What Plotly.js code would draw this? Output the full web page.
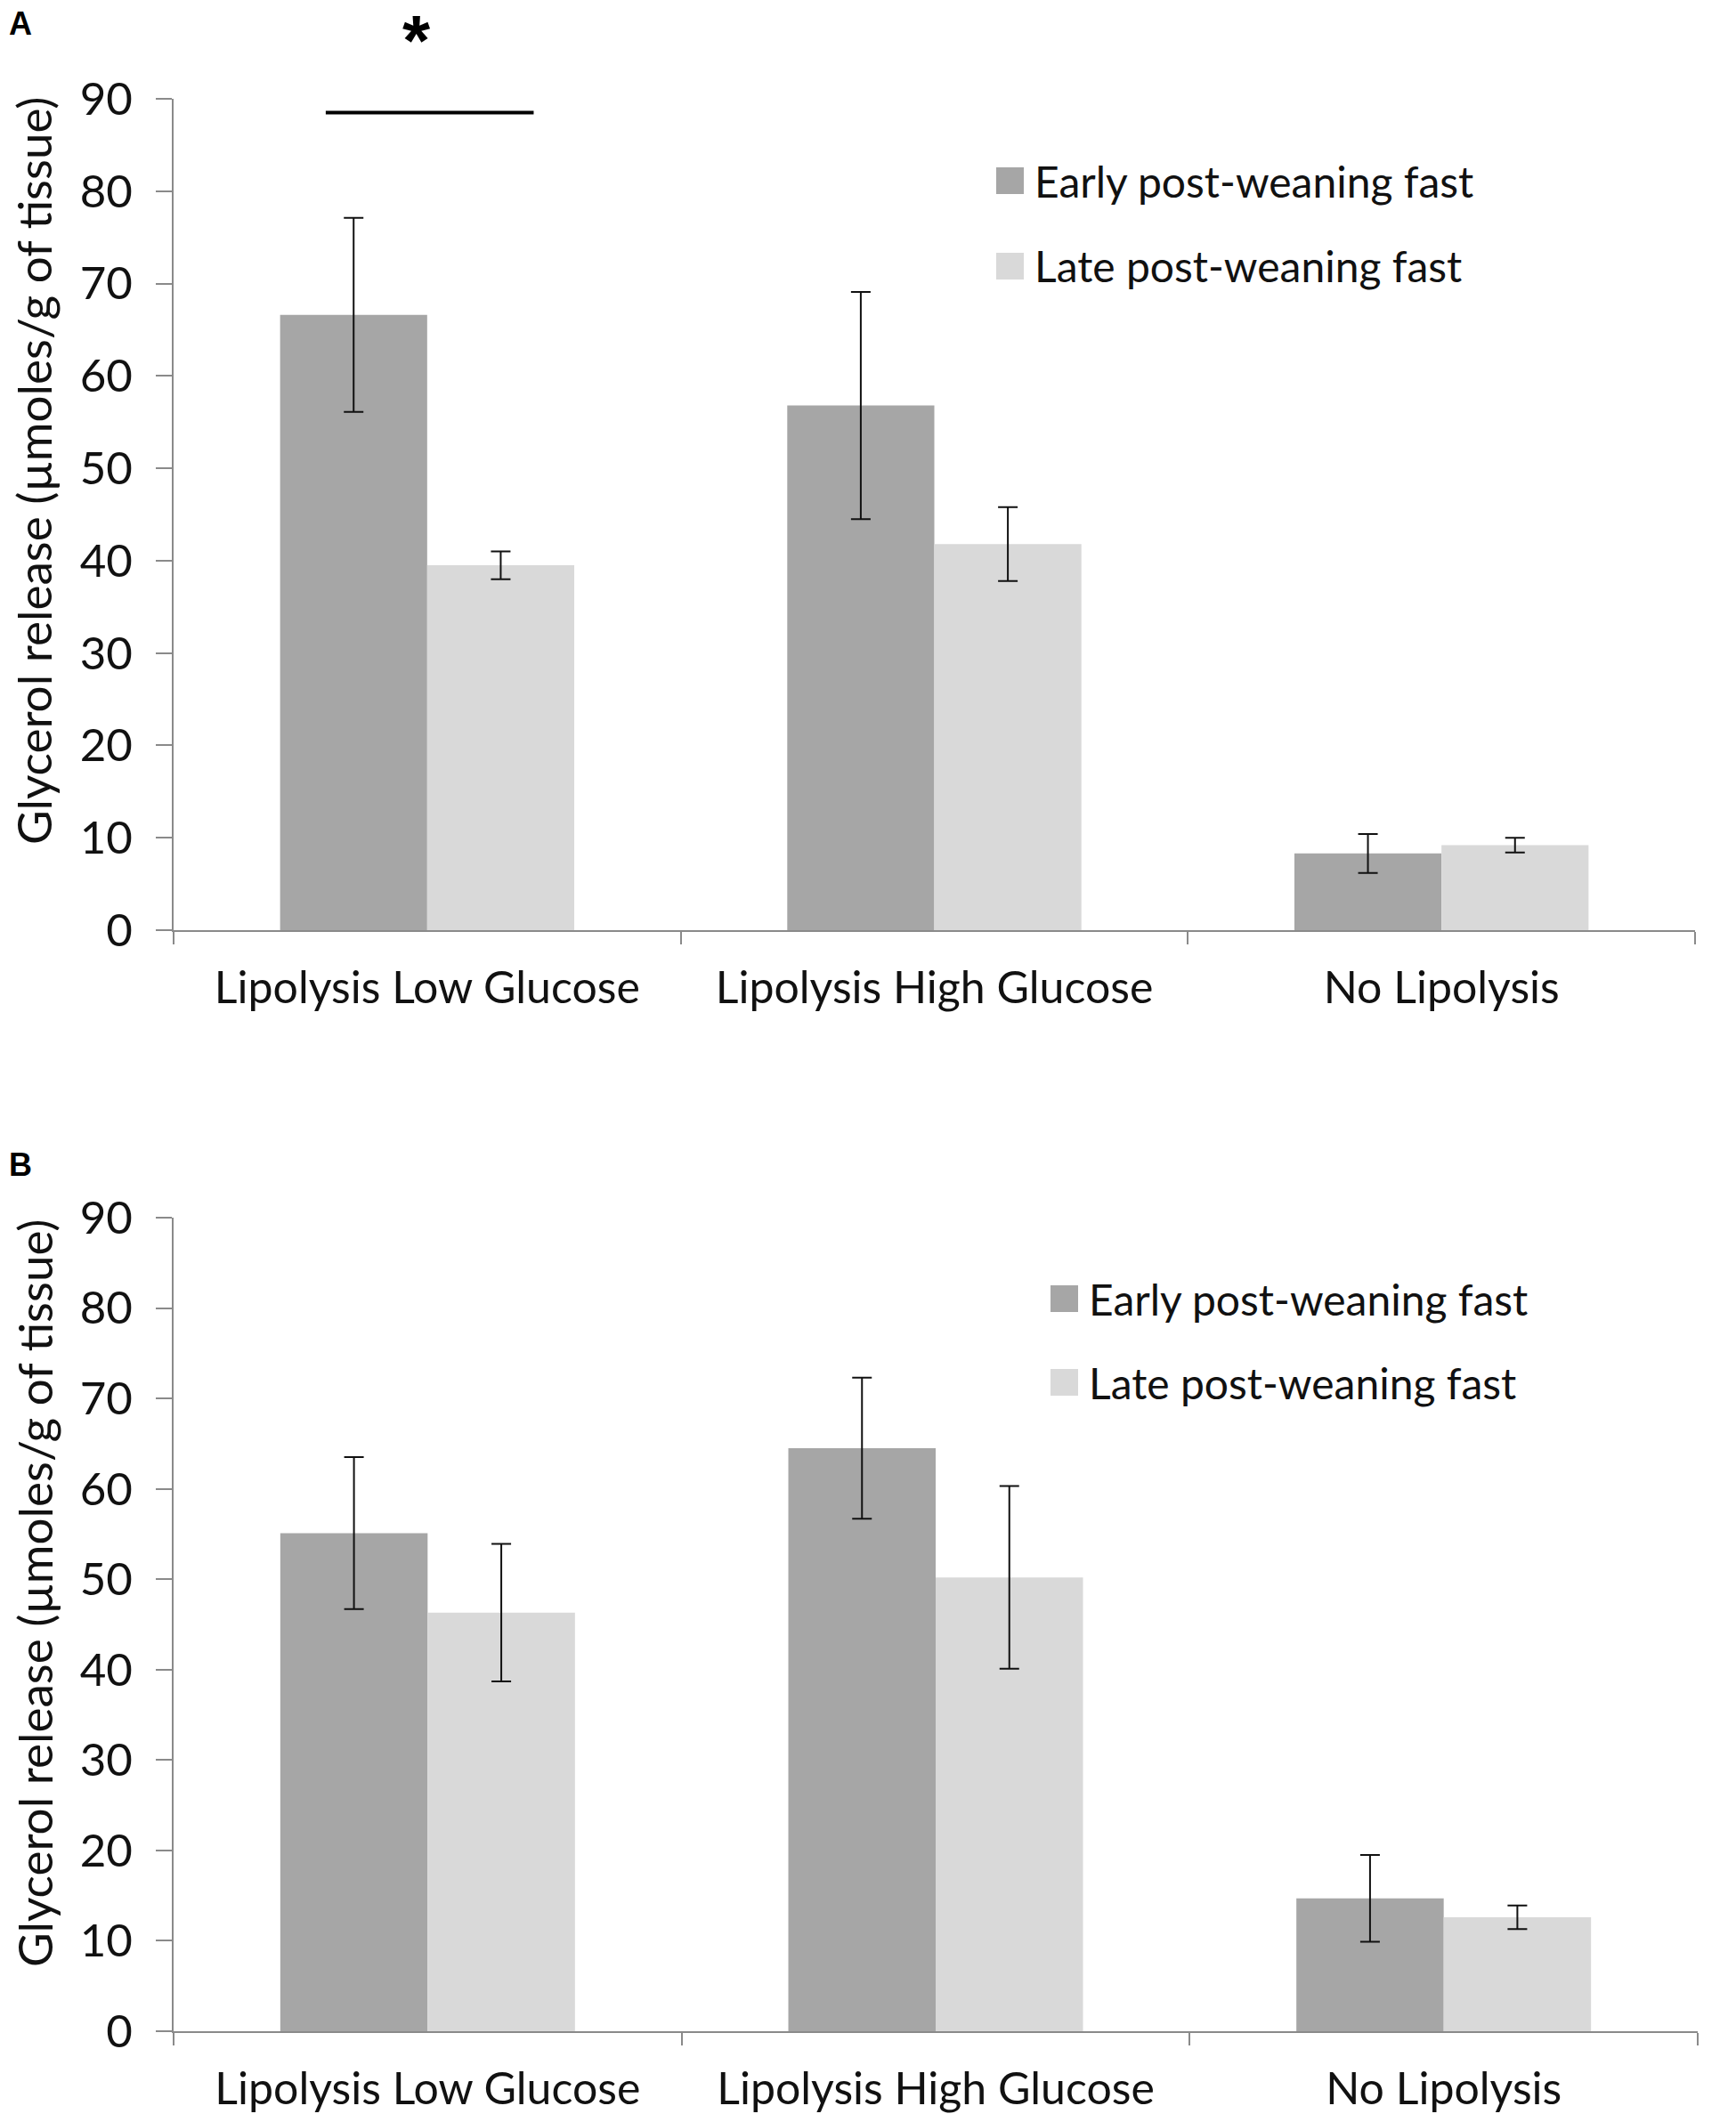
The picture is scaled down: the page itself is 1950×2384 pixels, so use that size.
<!DOCTYPE html>
<html>
<head>
<meta charset="utf-8">
<script src="https://cdn.plot.ly/plotly-3.0.1.min.js"></script>
<style>
  body { margin: 0; background: #fff; }
  #glycerol_chart { width: 1950px; height: 2384px; }
</style>
</head>
<body>
<div id="glycerol_chart"></div>
<script>
// categories and values (µmoles/g of tissue)
var categories = ['Lipolysis Low Glucose', 'Lipolysis High Glucose', 'No Lipolysis']
var series_names = ['Early post-weaning fast', 'Late post-weaning fast']

// panel A
var early_a = [66.6, 56.8, 8.3]
var early_a_err = [10.5, 12.3, 2.1]
var late_a = [39.5, 41.8, 9.2]
var late_a_err = [1.5, 4.0, 0.8]

// panel B
var early_b = [55.1, 64.5, 14.7]
var early_b_err = [8.4, 7.8, 4.8]
var late_b = [46.3, 50.2, 12.6]
var late_b_err = [7.6, 10.1, 1.3]

var y_ticks = [0, 10, 20, 30, 40, 50, 60, 70, 80, 90]

// significance bar over the first group of panel A
var sig_x = [-0.2, 0.21]
var sig_y = 88.5

var W = 1950, H = 2384
var dark = '#a6a6a6', light = '#d9d9d9'
var text_color = '#111', axis_color = '#8a8a8a'
var font_family = 'Lato, "Open Sans", sans-serif'

function px(x) { return x / W }
function py(y) { return 1 - y / H }

function bar_trace(name, y, err, color, xa, ya) {
    return {
        type: 'bar',
        name: name,
        x: categories,
        y: y,
        xaxis: xa,
        yaxis: ya,
        showlegend: false,
        marker: {color: color, line: {width: 0}},
        error_y: {
            type: 'data',
            array: err,
            visible: true,
            color: '#111',
            thickness: 2,
            width: 11
        },
        hovertemplate: '<b>%{x}</b><br>' + name + ': %{y}<extra></extra>'
    }
}

function x_axis(domain, anchor) {
    return {
        domain: domain,
        anchor: anchor,
        type: 'category',
        range: [-0.5, 2.5],
        showline: true,
        linecolor: axis_color,
        linewidth: 2,
        showgrid: false,
        zeroline: false,
        ticks: 'outside',
        tickson: 'boundaries',
        ticklen: 14,
        tickwidth: 2,
        tickcolor: axis_color,
        ticklabelstandoff: 20,
        tickfont: {family: font_family, size: 50, color: text_color},
        fixedrange: true
    }
}

function y_axis(domain, anchor) {
    return {
        domain: domain,
        anchor: anchor,
        range: [0, 90],
        tickvals: y_ticks,
        showline: true,
        linecolor: axis_color,
        linewidth: 2,
        showgrid: false,
        zeroline: false,
        ticks: 'outside',
        ticklen: 18,
        tickwidth: 2,
        tickcolor: axis_color,
        ticklabelstandoff: 16,
        tickfont: {family: font_family, size: 51, color: text_color},
        fixedrange: true
    }
}

// plot area corners in pixels: [left, right, top, bottom]
var box_a = [195, 1904, 111, 1045]
var box_b = [195, 1907, 1368, 2282]

var data = [
    bar_trace(series_names[0], early_a, early_a_err, dark, 'x', 'y'),
    bar_trace(series_names[1], late_a, late_a_err, light, 'x', 'y'),
    bar_trace(series_names[0], early_b, early_b_err, dark, 'x2', 'y2'),
    bar_trace(series_names[1], late_b, late_b_err, light, 'x2', 'y2')
]

var shapes = [{
    type: 'line', xref: 'x', yref: 'y',
    x0: sig_x[0], x1: sig_x[1], y0: sig_y, y1: sig_y,
    line: {color: '#000', width: 4}
}]

var annotations = [
    {text: '<b>A</b>', x: px(8), y: py(4), xref: 'paper', yref: 'paper', xanchor: 'left', yanchor: 'top',
     showarrow: false, font: {family: 'Liberation Sans, Arial, sans-serif', size: 36, color: '#000'}},
    {text: '<b>B</b>', x: px(8), y: py(1286), xref: 'paper', yref: 'paper', xanchor: 'left', yanchor: 'top',
     showarrow: false, font: {family: 'Liberation Sans, Arial, sans-serif', size: 36, color: '#000'}},
    {text: '<b>*</b>', x: -0.02, y: py(46), xref: 'x', yref: 'paper', xanchor: 'center', yanchor: 'middle',
     showarrow: false, font: {family: 'Liberation Sans, Arial, sans-serif', size: 80, color: '#000'}}
]

// y titles and legends for both panels
var y_title = 'Glycerol release (µmoles/g of tissue)'
var panels = [
    {title_y: 529, leg_sq: 1119, leg_txt: 1160, leg_y: [203, 299]},
    {title_y: 1790, leg_sq: 1180, leg_txt: 1221, leg_y: [1459, 1553]}
]
var colors = [dark, light]
panels.forEach(function (p) {
    annotations.push({
        text: y_title, x: px(38), y: py(p.title_y), xref: 'paper', yref: 'paper',
        xanchor: 'center', yanchor: 'middle', textangle: -90, showarrow: false,
        font: {family: font_family, size: 53, color: text_color}
    })
    for (i = 0; i < 2; i++) {
        shapes.push({
            type: 'rect', xref: 'paper', yref: 'paper',
            x0: px(p.leg_sq), x1: px(p.leg_sq + 31),
            y0: py(p.leg_y[i] + 15), y1: py(p.leg_y[i] - 15),
            fillcolor: colors[i], line: {width: 0}
        })
        annotations.push({
            text: series_names[i], x: px(p.leg_txt), y: py(p.leg_y[i]), xref: 'paper', yref: 'paper',
            xanchor: 'left', yanchor: 'middle', showarrow: false,
            font: {family: font_family, size: 48, color: text_color}
        })
    }
})

var layout = {
    width: W,
    height: H,
    margin: {t: 0, l: 0, r: 0, b: 0, pad: 0},
    paper_bgcolor: '#fff',
    plot_bgcolor: '#fff',
    barmode: 'group',
    bargap: 0.42,
    bargroupgap: 0,
    showlegend: false,
    font: {family: font_family, color: text_color},
    xaxis: x_axis([px(box_a[0]), px(box_a[1])], 'y'),
    yaxis: y_axis([py(box_a[3]), py(box_a[2])], 'x'),
    xaxis2: x_axis([px(box_b[0]), px(box_b[1])], 'y2'),
    yaxis2: y_axis([py(box_b[3]), py(box_b[2])], 'x2'),
    shapes: shapes,
    annotations: annotations
}

Plotly.newPlot('glycerol_chart', data, layout, {displayModeBar: false, staticPlot: true})
</script>
</body>
</html>
